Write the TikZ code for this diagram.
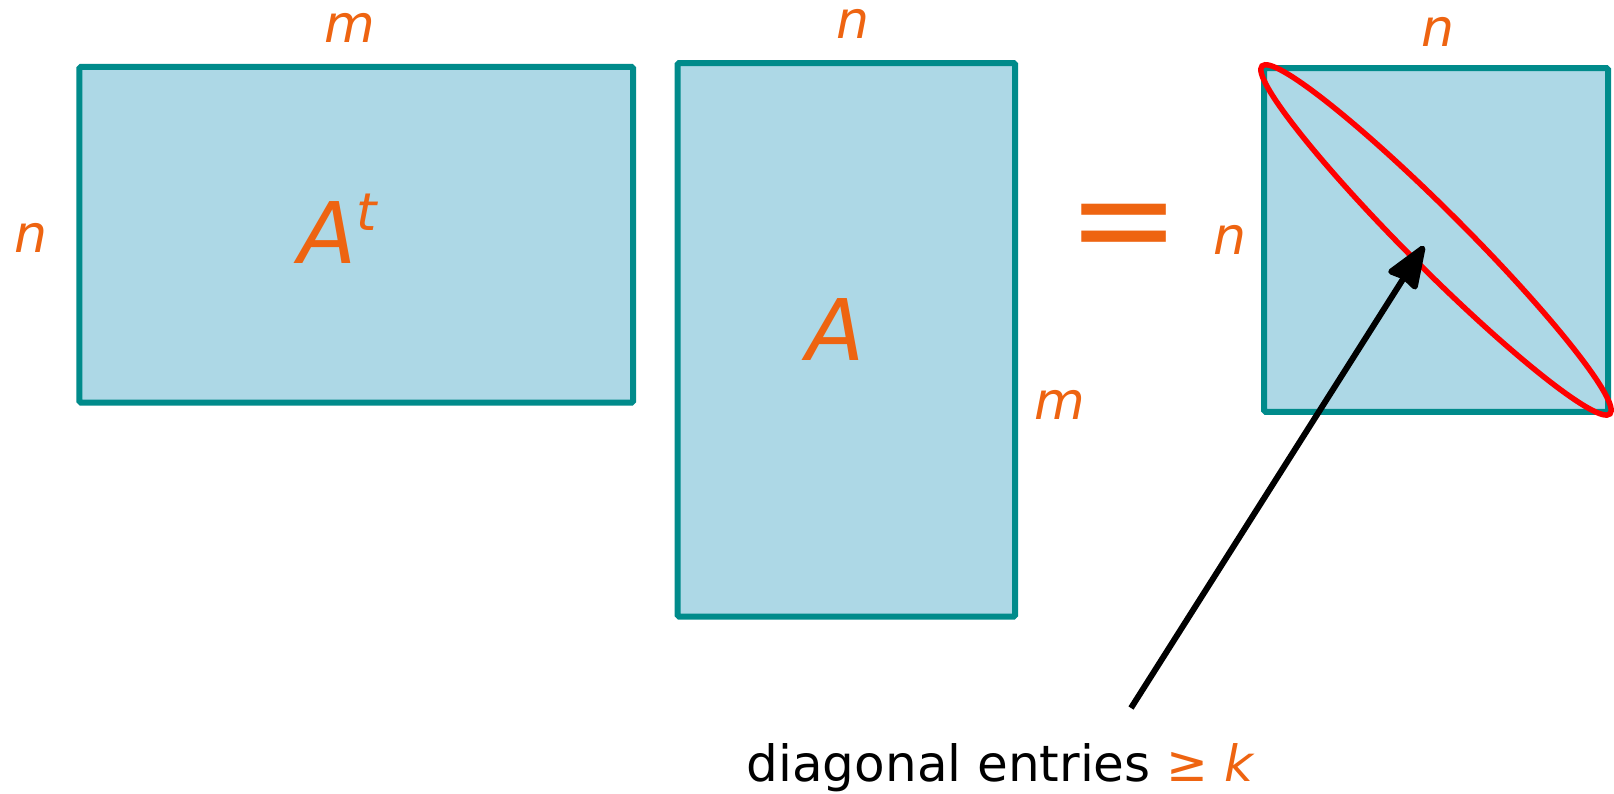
\documentclass[tikz,border=0pt]{standalone}
\usepackage{fontspec}
\setmainfont{DejaVu Sans}
\usetikzlibrary{shapes.geometric, arrows.meta, positioning}

\definecolor{matfill}{HTML}{ADD8E6}
\definecolor{matedge}{HTML}{008B8B}
\definecolor{dimorange}{HTML}{EE6411}

\begin{document}
\begin{tikzpicture}[
    x=1pt, y=-1pt,
    >={Stealth[length=48pt, width=36pt, inset=3pt, round]},
    mat/.style={rectangle, draw=matedge, fill=matfill, line width=6pt, rounded corners=1.5pt, inner sep=0pt, outer sep=0pt},
    dim/.style={text=dimorange, font=\fontsize{52}{52}\selectfont\itshape, inner sep=0pt},
    matname/.style={text=dimorange, font=\fontsize{85}{85}\selectfont\itshape, inner sep=0pt, anchor=base},
]
    \useasboundingbox (0,0) rectangle (1614,793);

    % the three matrices
    \node[mat, minimum width=553.7pt, minimum height=335.6pt] (At) at (356.2,234.7) {};
    \node[mat, minimum width=337.5pt, minimum height=553.5pt] (A) at (846.3,339.8) {};
    \node[mat, minimum width=344pt, minimum height=343.7pt] (AtA) at (1436,239.9) {};

    \node[matname] (AtName) at (338,263) {A\raisebox{33pt}{\fontsize{52}{52}\selectfont t}};
    \node[matname] (AName) at (836,360) {A};
    \node[text=dimorange, font=\fontsize{135}{135}\selectfont, inner sep=0pt] (eq) at (1124,235) {=};

    % dimensions
    \node[dim, above=24pt of At, xshift=-6pt] (mAt) {m};
    \node[dim, left=32pt of At, yshift=-3pt] (nAt) {n};
    \node[dim, above=24pt of A, xshift=7pt] (nA) {n};
    \node[dim] (mA) at (1060,405) {m};
    \node[dim, left=17pt of AtA] (nAtA) {n};
    \node[dim, above=21pt of AtA, xshift=2pt] (nAtAtop) {n};

    % diagonal
    \node[ellipse, draw=red, line width=5.5pt, minimum width=492pt, minimum height=58pt, inner sep=0pt, rotate=-45] (diag) at (AtA.center) {};

    \node[anchor=base, font=\fontsize{50}{50}\selectfont, inner sep=0pt] (note) at (1000,781) {diagonal entries {\color{dimorange}≥ {\itshape k}}};
    \coordinate (tail) at (1131,708);
    \coordinate (tip) at (1424,246);
    \draw[->, line width=6pt] (tail) -- (tip);
\end{tikzpicture}
\end{document}
